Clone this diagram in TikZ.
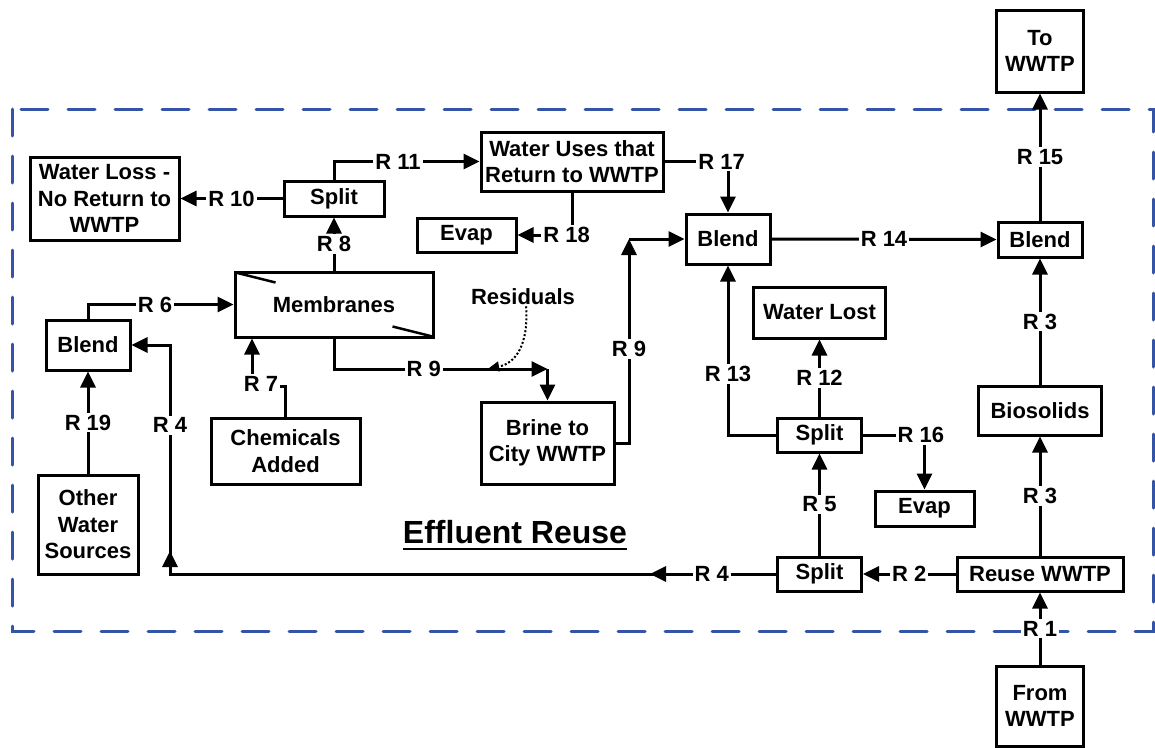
\documentclass[tikz,border=0pt]{standalone}
\usepackage{fontspec}
\setmainfont{Liberation Sans}
\usetikzlibrary{arrows.meta}
\definecolor{frameblue}{RGB}{52,84,168}
\begin{document}
\begin{tikzpicture}[x=1pt,y=-1pt,
  txt/.style={font=\fontsize{22}{26.5}\selectfont\bfseries},
  box/.style={txt, draw, line width=3pt, fill=white, align=center, inner sep=0pt},
  lbl/.style={txt, fill=white, inner sep=2pt},
  arr/.style={line width=3pt, -{Triangle[length=16pt,width=15pt]}},
  dashframe/.style={draw=frameblue, line width=3pt, dash pattern=on 27pt off 20pt, line cap=round}]
\useasboundingbox (0,0) rectangle (1155,747);
\draw[dashframe] (12,109) rectangle (1153,631);

% nodes
\node[box, minimum width=87pt, minimum height=82pt] (towwtp) at (1040,51) {To\\WWTP};
\node[box, minimum width=149pt, minimum height=83pt] (wloss) at (104.5,198.5) {Water Loss -\\No Return to\\WWTP};
\node[box, minimum width=100pt, minimum height=35pt] (split1) at (334,198.5) {Split};
\node[box, minimum width=182pt, minimum height=59pt] (wuses) at (572,161.5) {Water Uses that\\Return to WWTP};
\node[box, minimum width=99pt, minimum height=34pt] (evap1) at (466.5,235) {Evap};
\node[box, minimum width=84pt, minimum height=50pt] (blend2) at (728,239) {Blend};
\node[box, minimum width=84pt, minimum height=35pt] (blend3) at (1040,239.5) {Blend};
\node[box, minimum width=198pt, minimum height=65pt] (membr) at (334,304.5) {Membranes};
\node[box, minimum width=84pt, minimum height=50pt] (blend1) at (88,345) {Blend};
\node[box, minimum width=149pt, minimum height=66pt] (chem) at (285.5,451) {Chemicals\\Added};
\node[box, minimum width=100pt, minimum height=99pt] (other) at (88,524.5) {Other\\Water\\Sources};
\node[box, minimum width=133pt, minimum height=82pt] (brine) at (547.5,443) {Brine to\\City WWTP};
\node[box, minimum width=132pt, minimum height=51pt] (wlost) at (819.5,312.5) {Water Lost};
\node[box, minimum width=84pt, minimum height=34pt] (split2) at (819.5,435) {Split};
\node[box, minimum width=99pt, minimum height=35pt] (evap2) at (924.5,508.5) {Evap};
\node[box, minimum width=123pt, minimum height=49pt] (bios) at (1040,410.5) {Biosolids};
\node[box, minimum width=84pt, minimum height=34pt] (split3) at (819.5,574) {Split};
\node[box, minimum width=166pt, minimum height=34pt] (reuse) at (1040,574) {Reuse WWTP};
\node[box, minimum width=87pt, minimum height=80pt] (from) at (1040,706) {From\\WWTP};
\node[txt, inner sep=1pt] (resid) at (523,297) {Residuals};
\node[font=\fontsize{32}{38}\selectfont\bfseries, inner sep=0pt, anchor=base] (title) at (515,543) {Effluent Reuse};
\draw[line width=2.5pt] ([yshift=-6pt]title.base west) -- ([yshift=-6pt]title.base east);

% membrane marks
\draw[line width=2.5pt] ([shift={(2,2)}]membr.north west) -- ++(40,10);
\draw[line width=2.5pt] ([shift={(-2,-2)}]membr.south east) -- ++(-40,-10);

% coordinates
\coordinate (r4a) at (170,574);
\coordinate (r7c) at (252,386);
\coordinate (r9c) at (547.5,369);
\coordinate (r9d) at (629,239);

% connectors
\draw[arr] (from.north) -- node[lbl]{R 1} (reuse.south);
\draw[arr] (reuse.west) -- node[lbl]{R 2} (split3.east);
\draw[arr] (split3.west) -- node[lbl, pos=0.106]{R 4} (r4a) |- node[lbl, pos=0.325]{R 4} (blend1.east);
\draw[arr] (668,574) -- (650,574);
\draw[arr] (170,572) -- (170,551);
\draw[arr] (reuse.north) -- node[lbl]{R 3} (bios.south);
\draw[arr] (bios.north) -- node[lbl]{R 3} (blend3.south);
\draw[arr] (split3.north) -- node[lbl]{R 5} (split2.south);
\draw[arr] (split2.north) -- node[lbl]{R 12} (wlost.south);
\draw[arr] (split2.west) -| node[lbl, pos=0.68]{R 13} (blend2.south);
\draw[arr] (split2.east) -| node[lbl, pos=0.47]{R 16} (evap2.north);
\draw[arr] (blend2.east) -- node[lbl]{R 14} (blend3.west);
\draw[arr] (blend3.north) -- node[lbl]{R 15} (towwtp.south);
\draw[arr] (wuses.east) -| node[lbl, pos=0.45]{R 17} (blend2.north);
\draw[arr] (wuses.south) |- node[lbl, pos=0.55]{R 18} (evap1.east);
\draw[arr] (split1.north) |- node[lbl, pos=0.72]{R 11} (wuses.west);
\draw[arr] (split1.west) -- node[lbl]{R 10} (wloss.east);
\draw[arr] (membr.north) -- node[lbl]{R 8} (split1.south);
\draw[arr] (blend1.north) |- node[lbl, pos=0.73]{R 6} (membr.west);
\draw[arr] (other.north) -- node[lbl]{R 19} (blend1.south);
\draw[arr] (chem.north) |- (r7c) -- (r7c |- membr.south);
\node[lbl] (r7lbl) at (261,384) {R 7};
\draw[arr] (membr.south) |- node[lbl, pos=0.71]{R 9} (r9c);
\draw[arr] (r9c) -- (brine.north);
\draw[arr] (brine.east) -| node[lbl, pos=0.73]{R 9} (r9d);
\draw[arr] (r9d) -- (blend2.west);
\draw[dotted, line width=2pt, -{Triangle[length=10pt,width=10pt]}] ([xshift=3pt]resid.south) .. controls (529,345) and (515,364) .. (489,368);
\end{tikzpicture}
\end{document}
